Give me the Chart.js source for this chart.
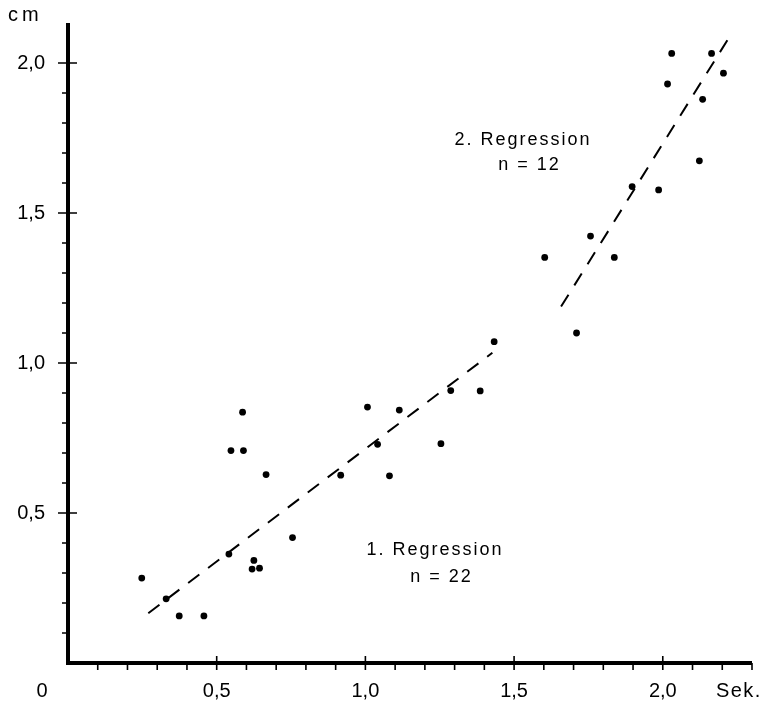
<!DOCTYPE html>
<html>
<head>
<meta charset="utf-8">
<script src="https://cdn.jsdelivr.net/npm/chart.js@4.4.1/dist/chart.umd.min.js"></script>
<style>
  html, body { margin: 0; padding: 0; background: #fff; }
  #wrap { width: 762px; height: 704px; }
</style>
</head>
<body>
<div id="wrap"><canvas id="regChart" width="762" height="704"></canvas></div>
<script>
// --- Datos: 1. Regression (n = 22) ---
const reg1X = [0.248, 0.330, 0.374, 0.457, 0.541, 0.548, 0.590, 0.587, 0.625, 0.619, 0.644,
               0.666, 0.755, 0.917, 1.007, 1.041, 1.081, 1.114, 1.254, 1.287, 1.386, 1.433];
const reg1Y = [0.283, 0.214, 0.157, 0.157, 0.363, 0.708, 0.708, 0.836, 0.342, 0.313, 0.316,
               0.628, 0.418, 0.626, 0.853, 0.729, 0.624, 0.843, 0.731, 0.908, 0.907, 1.071];

// --- Datos: 2. Regression (n = 12) ---
const reg2X = [1.603, 1.710, 1.757, 1.837, 1.897, 1.986, 2.123, 2.016, 2.030, 2.134, 2.164, 2.204];
const reg2Y = [1.352, 1.100, 1.423, 1.352, 1.588, 1.577, 1.674, 1.930, 2.032, 1.879, 2.032, 1.966];

// --- Rectas de regresion (extremos) ---
const linea1X = [0.270, 1.427];
const linea1Y = [0.166, 1.034];
const linea2X = [1.658, 2.221];
const linea2Y = [1.188, 2.082];

// --- Ejes ---
const xMax = 2.3;
const yMax = 2.1333;
const xMajor = [0.5, 1.0, 1.5, 2.0];
const yMajor = [0.5, 1.0, 1.5, 2.0];

// --- Textos ---
const notas = [
    { text: '1. Regression', x: 1.234, y: 0.377 },
    { text: 'n = 22', x: 1.256, y: 0.287 },
    { text: '2. Regression', x: 1.530, y: 1.743 },
    { text: 'n = 12', x: 1.552, y: 1.660 }
];

const FONT = '"Liberation Sans", Arial, sans-serif';

function toPoints(xs, ys) {
    return xs.map((x, i) => ({ x: x, y: ys[i] }));
}

function esMajor(lista, v) {
    return lista.some(m => Math.abs(m - v) < 1e-6);
}

function etiqueta(lista, v) {
    return esMajor(lista, v) ? v.toFixed(1).replace('.', ',') : '';
}

// sin relleno extra de las etiquetas en los bordes
function sinPadding(s) {
    s.paddingLeft = 0;
    s.paddingRight = 0;
    s.paddingTop = 0;
    s.paddingBottom = 0;
}

// Ejes dibujados a mano: linea gruesa, marcas mayores y menores
const ejesPlugin = {
    id: 'ejes',
    afterDatasetsDraw(chart) {
        const ctx = chart.ctx;
        const xs = chart.scales.x;
        const ys = chart.scales.y;
        const area = chart.chartArea;
        ctx.save();
        ctx.strokeStyle = '#000';
        ctx.lineCap = 'butt';

        // lineas de los ejes
        ctx.lineWidth = 4;
        ctx.beginPath();
        ctx.moveTo(area.left, area.top);
        ctx.lineTo(area.left, area.bottom + 2);
        ctx.moveTo(area.left - 2, area.bottom);
        ctx.lineTo(area.right, area.bottom);
        ctx.stroke();

        // marcas
        ctx.lineWidth = 1.6;
        ctx.beginPath();
        for (let i = 1; i <= 23; i++) {
            const v = i / 10;
            const px = xs.getPixelForValue(v);
            const major = esMajor(xMajor, v);
            ctx.moveTo(px, major ? area.bottom - 7 : area.bottom);
            ctx.lineTo(px, area.bottom + 7);
        }
        for (let i = 1; i <= 20; i++) {
            const v = i / 10;
            const py = ys.getPixelForValue(v);
            const major = esMajor(yMajor, v);
            ctx.moveTo(area.left - (major ? 10 : 6), py);
            ctx.lineTo(major ? area.left + 9 : area.left, py);
        }
        ctx.stroke();

        // textos sueltos: cm, 0, Sek.
        ctx.fillStyle = '#000';
        ctx.font = '20px ' + FONT;
        ctx.textBaseline = 'middle';
        ctx.letterSpacing = '4px';
        ctx.textAlign = 'left';
        ctx.fillText('cm', area.left - 60, area.top - 8);
        ctx.letterSpacing = '0px';
        ctx.textAlign = 'center';
        ctx.fillText('0', area.left - 26, area.bottom + 28);
        ctx.letterSpacing = '1.5px';
        ctx.fillText('Sek.', xs.getPixelForValue(2.256), area.bottom + 28);

        // notas de las regresiones
        ctx.font = '18px ' + FONT;
        ctx.letterSpacing = '2px';
        notas.forEach(n => {
            ctx.fillText(n.text, xs.getPixelForValue(n.x), ys.getPixelForValue(n.y));
        });
        ctx.restore();
    }
};

const puntoStyle = {
    type: 'scatter',
    showLine: false,
    pointRadius: 3.4,
    pointBackgroundColor: '#000',
    pointBorderWidth: 0,
    borderColor: '#000'
};

const lineaStyle = {
    type: 'line',
    showLine: true,
    borderColor: '#000',
    borderWidth: 2,
    borderDash: [14, 11],
    pointRadius: 0,
    fill: false
};

const ctx = document.getElementById('regChart').getContext('2d');
new Chart(ctx, {
    type: 'scatter',
    data: {
        datasets: [
            Object.assign({ label: '1. Regression', data: toPoints(reg1X, reg1Y) }, puntoStyle),
            Object.assign({ label: '2. Regression', data: toPoints(reg2X, reg2Y) }, puntoStyle),
            Object.assign({ label: 'Gerade 1', data: toPoints(linea1X, linea1Y) }, lineaStyle),
            Object.assign({ label: 'Gerade 2', data: toPoints(linea2X, linea2Y) }, lineaStyle)
        ]
    },
    options: {
        responsive: false,
        animation: false,
        layout: { padding: { top: 23, right: 10, left: 0, bottom: 0 } },
        plugins: {
            legend: { display: false },
            tooltip: { enabled: false }
        },
        scales: {
            x: {
                type: 'linear',
                min: 0,
                max: xMax,
                grid: { display: false, drawTicks: false },
                border: { display: false },
                afterFit: s => { s.height = 41; sinPadding(s); },
                ticks: {
                    stepSize: 0.1,
                    autoSkip: false,
                    maxRotation: 0,
                    includeBounds: false,
                    padding: 16,
                    color: '#000',
                    font: { family: FONT, size: 20 },
                    callback: v => etiqueta(xMajor, v)
                }
            },
            y: {
                type: 'linear',
                min: 0,
                max: yMax,
                grid: { display: false, drawTicks: false },
                border: { display: false },
                afterFit: s => { s.width = 68; sinPadding(s); },
                ticks: {
                    stepSize: 0.1,
                    autoSkip: false,
                    includeBounds: false,
                    padding: 23,
                    color: '#000',
                    font: { family: FONT, size: 20 },
                    callback: v => etiqueta(yMajor, v)
                }
            }
        }
    },
    plugins: [ejesPlugin]
});
</script>
</body>
</html>
